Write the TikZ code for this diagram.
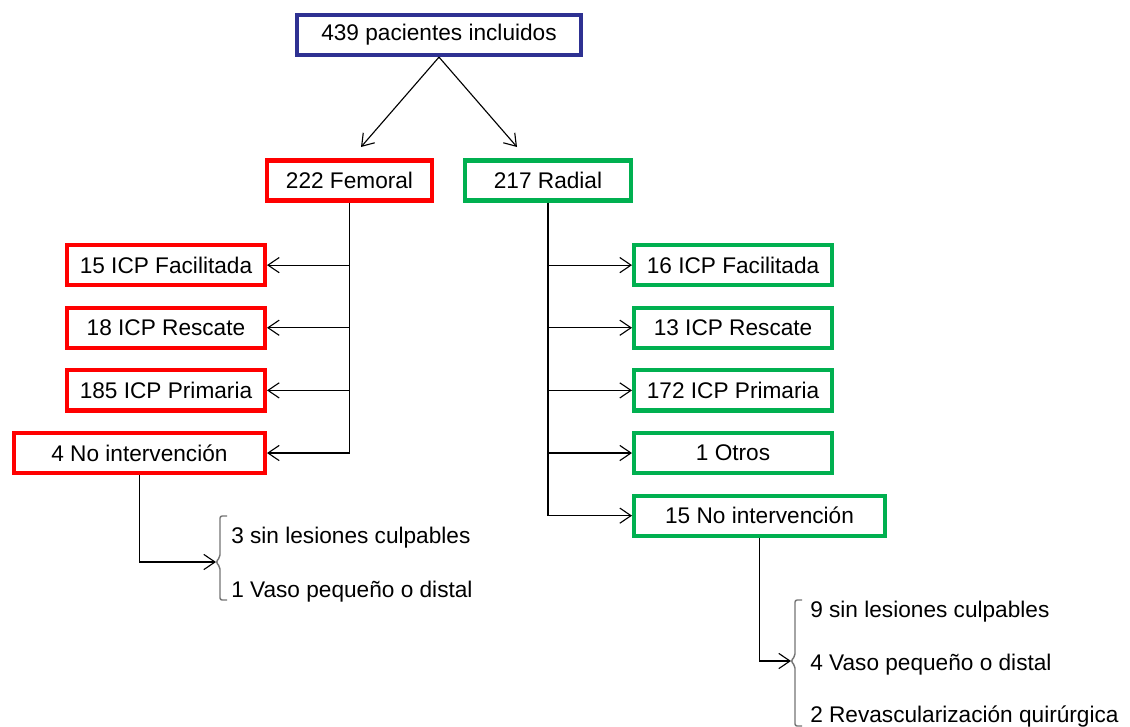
\documentclass[tikz,border=0pt]{standalone}
\usepackage{fontspec}
\setmainfont{Liberation Sans}
\usetikzlibrary{positioning,arrows.meta}
\definecolor{navy}{RGB}{46,49,146}
\definecolor{rojo}{RGB}{255,0,0}
\definecolor{verde}{RGB}{0,176,80}
\tikzset{box/.style={draw,line width=3pt,inner sep=0pt,minimum height=1cm,font=\fontsize{16.1}{19}\selectfont},
	 topbox/.style={box,draw=navy,minimum width=7.1cm},
	 fembox/.style={box,draw=rojo,minimum width=4.945cm},
	 radbox/.style={box,draw=verde,minimum width=4.945cm},
	 widebox/.style={minimum width=6.27cm},
	 item/.style={anchor=base west,inner sep=0pt,font=\fontsize{16.1}{19}\selectfont},
	 link/.style={draw,line width=0.8pt},
	 arr/.style={link,-{Straight Barb[length=2.8mm,width=3.8mm]}},
	 brk/.style={draw=black!55,line width=1pt,rounded corners=1.5pt},
	 node distance = 0.46cm
	 }
\begin{document}
\begin{tikzpicture}[x=0.025cm,y=-0.025cm] % flujo de pacientes
	\useasboundingbox (0,0) rectangle (1130,726);
	\node[topbox] (tot) at (439,35) {439 pacientes incluidos};
	\node[box,draw=rojo,minimum width=4.12cm] (fem) at (349.5,180.5) {222 Femoral};
	\node[box,draw=verde,minimum width=4.15cm] (rad) at (548,180.5) {217 Radial};
	\coordinate (fa) at (361,147);
	\coordinate (ra) at (517,147);
	\draw[arr] (tot.south) -- (fa);
	\draw[arr] (tot.south) -- (ra);
	% femoral
	\node[fembox,anchor=north east] (fac1) at (267,243) {15 ICP Facilitada};
	\node[fembox] (res1) [below=of fac1] {18 ICP Rescate};
	\node[fembox] (pri1) [below=of res1] {185 ICP Primaria};
	\node[fembox,widebox] (noi1) [below=of pri1.south east,anchor=north east] {4 No intervención};
	\draw[link] (fem.south) -- (fem.south |- noi1.east);
	\foreach \n in {fac1,res1,pri1,noi1}
		\draw[arr] (fem.south |- \n.east) -- (\n.east);
	% radial
	\node[radbox,anchor=north west] (fac2) at (632,243) {16 ICP Facilitada};
	\node[radbox] (res2) [below=of fac2] {13 ICP Rescate};
	\node[radbox] (pri2) [below=of res2] {172 ICP Primaria};
	\node[radbox] (otr2) [below=of pri2] {1 Otros};
	\node[radbox,widebox] (noi2) [below=of otr2.south west,anchor=north west] {15 No intervención};
	\draw[link] (rad.south) -- (rad.south |- noi2.west);
	\foreach \n in {fac2,res2,pri2,otr2,noi2}
		\draw[arr] (rad.south |- \n.west) -- (\n.west);
	% motivos
	\node[item] (m1a) at (231,543) {3 sin lesiones culpables};
	\node[item] (m1b) at (231,597) {1 Vaso pequeño o distal};
	\coordinate (bt1) at (216,562);
	\draw[brk] (227,516) -- (220,516) -- (220,557) -- (bt1) -- (220,567) -- (220,600) -- (227,600);
	\draw[arr] (noi1.south) |- (bt1);
	\node[item] (m2a) at (810,617) {9 sin lesiones culpables};
	\node[item] (m2b) at (810,670) {4 Vaso pequeño o distal};
	\node[item] (m2c) at (810,722) {2 Revascularización quirúrgica};
	\coordinate (bt2) at (791,661);
	\draw[brk] (802,600) -- (795,600) -- (795,656) -- (bt2) -- (795,666) -- (795,726) -- (802,726);
	\draw[arr] (noi2.south) |- (bt2);
\end{tikzpicture}
\end{document}
